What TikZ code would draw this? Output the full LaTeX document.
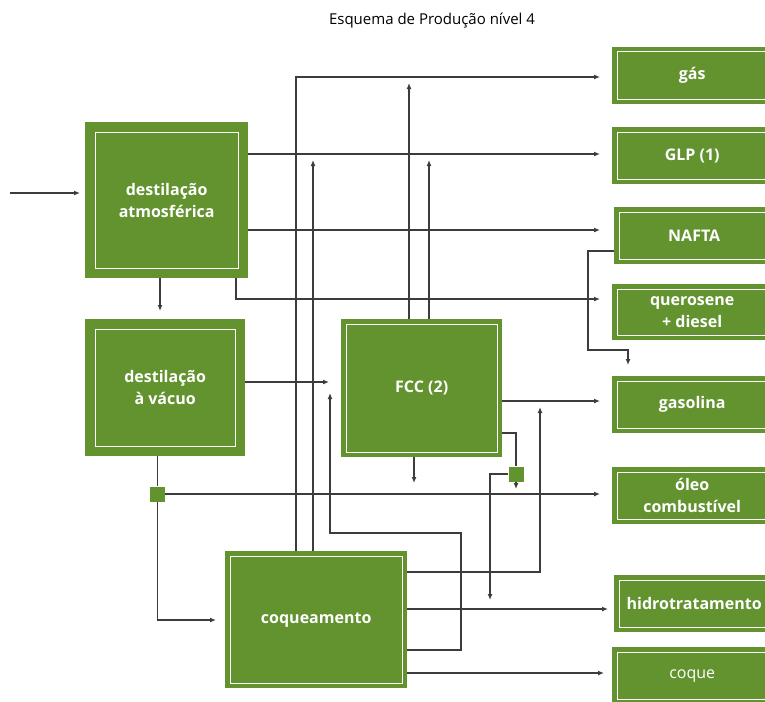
\documentclass[tikz,border=0pt]{standalone}
\usepackage{fontspec}
\setmainfont{Open Sans}
\usetikzlibrary{arrows.meta,positioning}

\definecolor{unitgreen}{RGB}{98,147,47}
\definecolor{pipegray}{RGB}{60,60,60}

\tikzset{
  unit/.style={rectangle, fill=unitgreen, text=white, align=center, inner sep=0pt, anchor=north west,
    font=\bfseries\fontsize{16}{22}\selectfont},
  product/.style={unit, minimum width=160pt, minimum height=57pt},
  joint/.style={rectangle, fill=unitgreen, minimum size=15pt, inner sep=0pt},
  frame/.style={draw=white, line width=1pt},
  pipe/.style={draw=pipegray, line width=1.2pt},
  flow/.style={pipe, -{Latex[length=6pt,width=5pt]}},
}

\begin{document}
\begin{tikzpicture}[x=1pt, y=-1pt]

    \path[use as bounding box, clip] (0,0) rectangle (765,701);

    \node (title) at (432,21) {\fontsize{15}{18}\selectfont Esquema de Produção nível 4};

    % process units
    \node (atm) [unit, minimum width=163pt, minimum height=156pt] at (85,122) {destilação\\atmosférica};
    \node (vac) [unit, minimum width=160pt, minimum height=137pt] at (85,319) {destilação\\à vácuo};
    \node (fcc) [unit, minimum width=161pt, minimum height=138pt] at (341,319) {FCC (2)};
    \node (coq) [unit, minimum width=182pt, minimum height=137pt] at (225,551) {coqueamento};

    % products
    \node (gas)   [product] at (612,47)  {gás};
    \node (glp)   [product] at (612,127) {GLP (1)};
    \node (nafta) [product] at (614,207) {NAFTA};
    \node (quer)  [product, minimum height=56pt] at (612,284) {querosene\\+ diesel};
    \node (gasol) [product] at (612,376) {gasolina};
    \node (oleo)  [product] at (612,467) {óleo\\combustível};
    \node (hidro) [product] at (614,575) {hidrotratamento};
    \node (coque) [product, font=\fontsize{16}{22}\selectfont] at (612,647) {coque};

    % white inner frames
    \foreach \n/\d in {atm/10, vac/10, fcc/5, coq/5, gas/5, glp/5, nafta/5, quer/5, gasol/5, oleo/5, hidro/5, coque/5}
        \draw[frame] ([shift={(\d,\d)}]\n.north west) rectangle ([shift={(-\d,-\d)}]\n.south east);

    % split points
    \node (j1) [joint] at (157.5,494) {};
    \node (j2) [joint] at (516,474) {};

    % feed
    \coordinate (feed) at (10,193);
    \draw[flow, shorten >=5pt] (feed) -- (feed -| atm.west);

    % atmospheric distillation cuts
    \draw[flow] (atm.east |- 0,154) -- (600,154);
    \draw[flow] (atm.east |- 0,230) -- (600,230);
    \draw[flow] (236,0 |- atm.south) |- (600,299);
    \draw[flow] (160,0 |- atm.south) -- (160,311);

    % vacuum distillation
    \draw[flow] (vac.east |- 0,382) -- (329,382);
    \draw[pipe] (157.5,0 |- vac.south) -- (j1);
    \draw[flow] (j1) |- (216,620);
    \draw[flow] (j1) -- (600,494);

    % FCC
    \draw[flow] (409,0 |- fcc.north) -- (409,83);
    \draw[flow] (429,0 |- fcc.north) -- (429,160);
    \draw[flow] (fcc.east |- 0,401) -- (600,401);
    \draw[flow] (414,0 |- fcc.south) -- (414,483);
    \draw[pipe] (fcc.east |- 0,433) -| (j2);
    \draw[flow] (j2) -- (516,489);
    \draw[flow] (j2.west) -| (490,600);

    % coking
    \draw[flow] (296,0 |- coq.north) |- (600,77);
    \draw[flow] (313,0 |- coq.north) -- (313,160);
    \draw[flow] (coq.east |- 0,572) -| (540,407);
    \draw[flow] (coq.east |- 0,609) -- (608,609);
    \draw[flow] (coq.east |- 0,650) -| (461,533) -| (330,393);
    \draw[flow] (coq.east |- 0,673) -- (604,673);

    % nafta sent to gasoline pool
    \draw[flow] (nafta.west |- 0,251) -| (588,350) -| (628,365);

\end{tikzpicture}
\end{document}
